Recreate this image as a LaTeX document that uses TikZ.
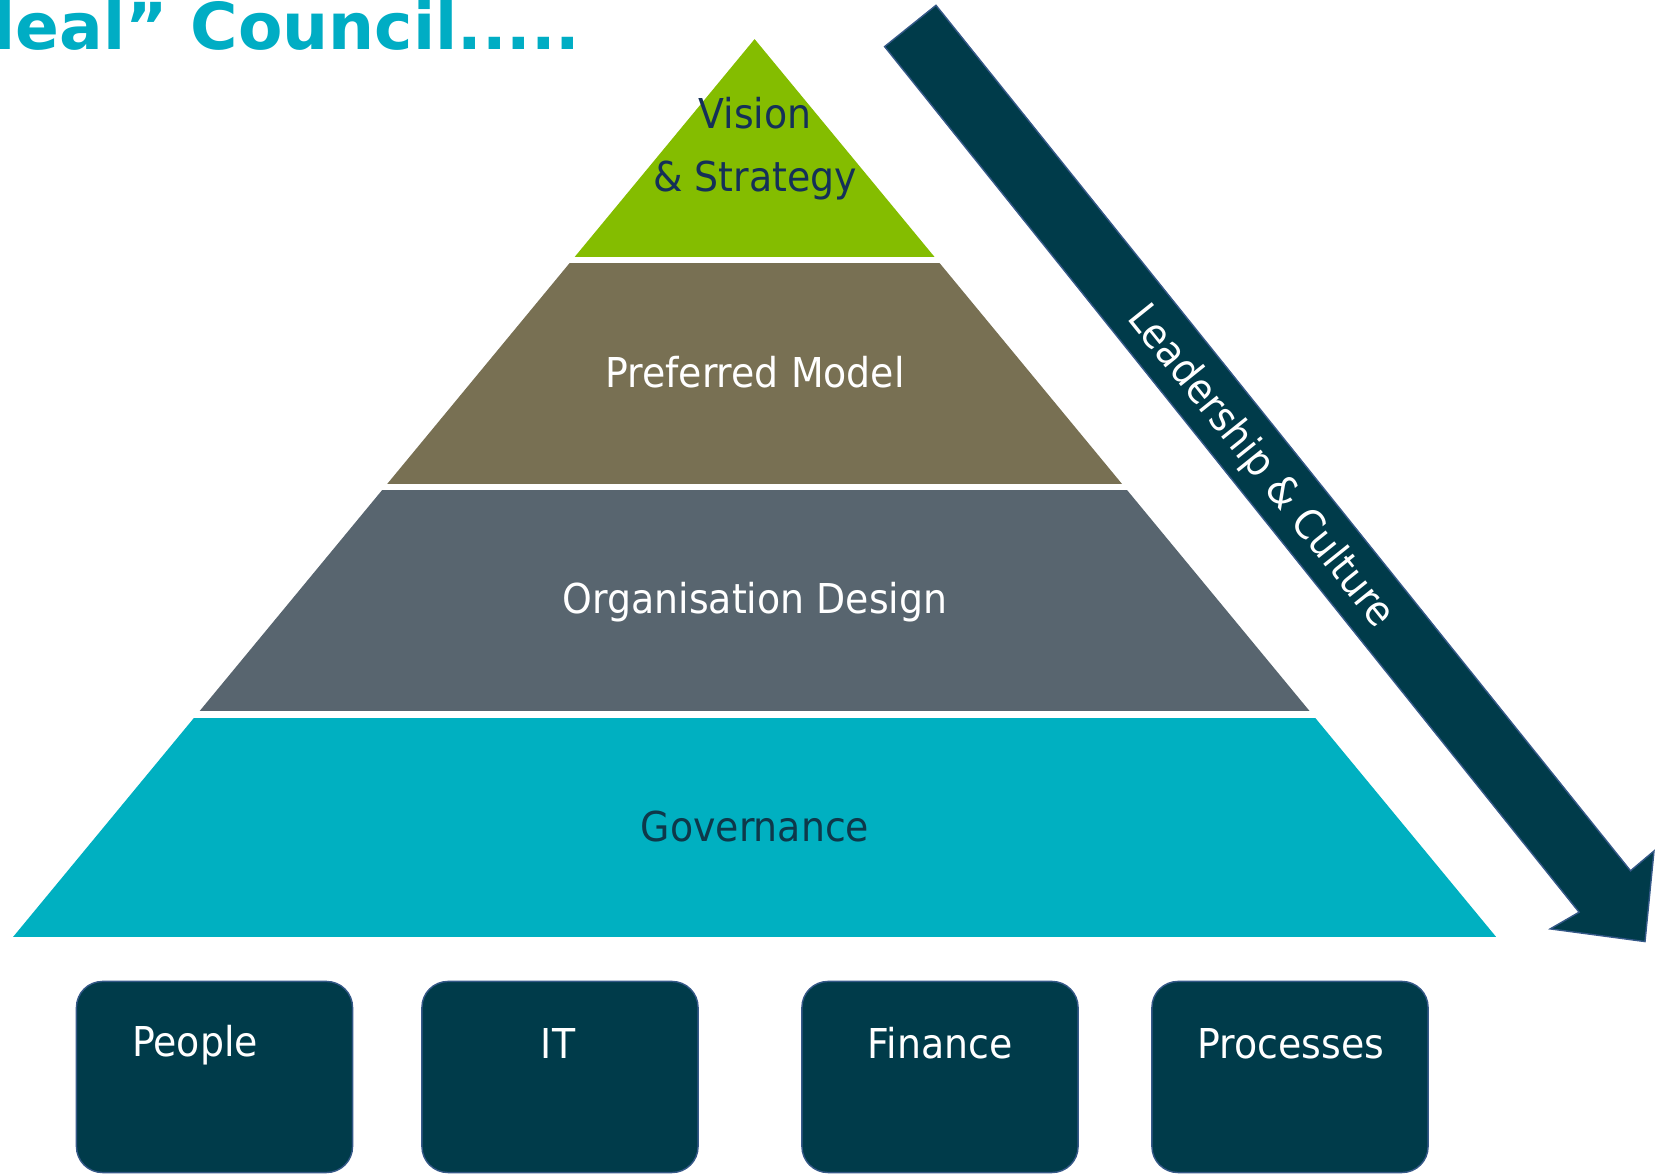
\documentclass[tikz,border=0pt]{standalone}
\usepackage{xcolor}
\usepackage{fontspec}
\usepackage{tikz}
\setmainfont{DejaVu Sans}
\newfontfamily\labelfont{DejaVu Sans}[FakeStretch=0.92]
\definecolor{councilcyan}{RGB}{0,173,196}
\definecolor{visiongreen}{RGB}{132,189,0}
\definecolor{modelbrown}{RGB}{120,112,83}
\definecolor{designgrey}{RGB}{88,101,111}
\definecolor{governcyan}{RGB}{0,176,193}
\definecolor{darkteal}{RGB}{0,59,74}
\definecolor{edgeblue}{RGB}{52,88,135}
\definecolor{visiontext}{RGB}{20,48,88}
\definecolor{governtext}{RGB}{14,56,74}

\begin{document}
\begin{tikzpicture}[x=0.01cm,y=-0.01cm,
  tier/.style={anchor=base,inner sep=0pt,font={\labelfont\fontsize{11.7}{18}\selectfont}},
  pillar/.style={draw=edgeblue,line width=0.4pt,fill=darkteal,rounded corners=0.26cm,
    minimum width=2.76cm,minimum height=1.91cm,inner sep=0pt}]
\useasboundingbox (0,0) rectangle (1657,1174);
\clip (0,0) rectangle (1657,1174);
% Heading, cut at the top edge
\node[anchor=base west,inner sep=0pt,text=councilcyan,font={\bfseries\fontsize{18.4}{22}\selectfont}] (heading) at (-7,50) {leal” Council.....};
% Pyramid tiers, cut out of one triangle
\begin{scope}
\clip (754.6,39.1) -- (12.7,937.4) -- (1496.5,937.4) -- cycle;
\fill[visiongreen] (0,0) rectangle (1657,256.8);
\fill[modelbrown] (0,263.2) rectangle (1657,483.6);
\fill[designgrey] (0,490) rectangle (1657,711.4);
\fill[governcyan] (0,717.6) rectangle (1657,937.4);
\end{scope}
% Tier labels
\node[tier,text=visiontext] (vision) at (755,128.3) {Vision};
\node[tier,text=visiontext] (strategy) at (755,191.7) {\& Strategy};
\node[tier,text=white] (model) at (755,387.3) {Preferred Model};
\node[tier,text=white] (design) at (755,614) {Organisation Design};
\node[tier,text=governtext] (governance) at (755,841.7) {Governance};
% Leadership arrow down the right side
\fill[darkteal,draw=edgeblue,line width=0.4pt] (884.6,46.6) -- (1579.1,912.2) -- (1550.2,928.9)
  -- (1645,941.6) -- (1654,851) -- (1630.5,870.8) -- (936.0,5.3) -- cycle;
\node[tier,anchor=center,text=white,rotate=-51.26] (leadership) at (1260,467) {Leadership \& Culture};
% Pillars under the pyramid
\node[pillar] (people) at (214.5,1077) {};
\node[pillar] (it) at (560,1077) {};
\node[pillar] (finance) at (940,1077) {};
\node[pillar] (processes) at (1290,1077) {};
\node[tier,text=white] (peoplelabel) at (195,1056.7) {People};
\node[tier,text=white] (itlabel) at (558,1059) {IT};
\node[tier,text=white] (financelabel) at (940,1059) {Finance};
\node[tier,text=white] (processeslabel) at (1291,1059) {Processes};
\end{tikzpicture}
\end{document}
